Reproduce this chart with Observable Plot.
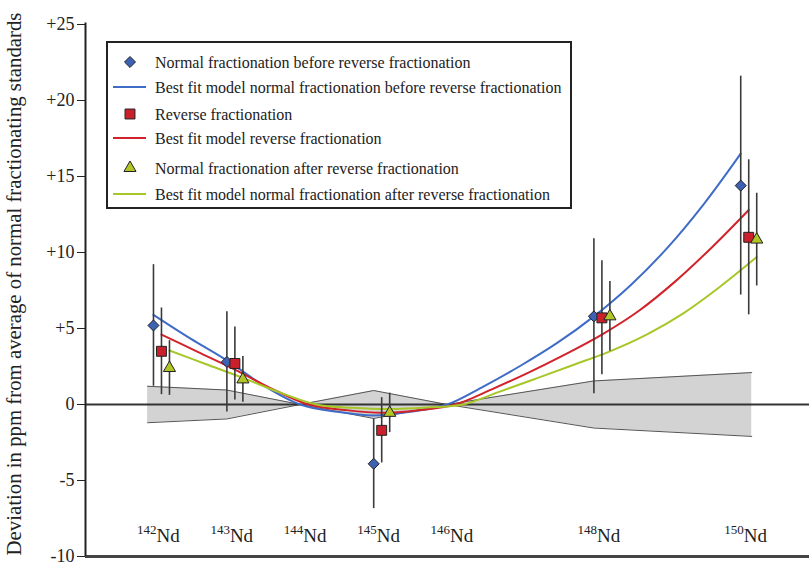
<!DOCTYPE html>
<html><head><meta charset="utf-8">
<script src="https://cdn.jsdelivr.net/npm/d3@7"></script>
<script src="https://cdn.jsdelivr.net/npm/@observablehq/plot@0.6"></script>
<style>
body{margin:0;background:#fff;}
#wrap{position:relative;width:809px;height:566px;font-family:"Liberation Serif","Times New Roman",serif;color:#222;}
#ytitle{position:absolute;left:14px;top:284px;transform:translate(-50%,-50%) rotate(-90deg);white-space:nowrap;font-size:20.8px;}
#legend{position:absolute;left:106px;top:41px;}
</style></head><body><div id="wrap"><div id="ytitle">Deviation in ppm from average of normal fractionating standards</div></div>
<script>
// ---- data ----
const isotopeMass = [142, 143, 144, 145, 146, 148, 150];
const isotopeSup = ["142", "143", "144", "145", "146", "148", "150"];
const isotopeElement = "Nd";

const measuredMass = [142, 143, 145, 148, 150];
const beforeValue = [5.2, 2.8, -3.9, 5.8, 14.4];
const beforeError = [4.0, 3.3, 2.95, 5.1, 7.2];
const reverseValue = [3.5, 2.7, -1.7, 5.7, 11.0];
const reverseError = [2.85, 2.4, 2.15, 3.75, 5.1];
const afterValue = [2.4, 1.65, -0.55, 5.8, 10.85];
const afterError = [1.8, 1.5, 1.3, 2.3, 3.05];

const curveMass = [142, 142.5, 143, 143.5, 144, 144.5, 145, 145.5, 146, 146.5, 147, 147.5, 148, 148.5, 149, 149.5, 150];
const beforeFit = [5.9, 4.35, 2.9, 1.25, 0, -0.48, -0.72, -0.48, 0, 1.2, 2.55, 4.05, 5.8, 7.85, 10.3, 13.2, 16.5];
const reverseFit = [4.6, 3.45, 2.3, 1.05, 0, -0.36, -0.55, -0.38, 0, 1.0, 2.1, 3.3, 4.6, 6.15, 8.1, 10.35, 12.8];
const afterFit = [3.55, 2.65, 1.75, 0.8, 0, -0.22, -0.3, -0.2, 0, 0.85, 1.72, 2.6, 3.5, 4.6, 6.0, 7.75, 9.7];

const bandMass = [141.92, 143, 144, 145, 146, 148, 150.15];
const bandHalfWidth = [1.2, 0.95, 0, 0.92, 0, 1.55, 2.1];

const yTicks = [-10, -5, 0, 5, 10, 15, 20, 25];

const legendLabels = [
  "Normal fractionation before reverse fractionation",
  "Best fit model normal fractionation before reverse fractionation",
  "Reverse fractionation",
  "Best fit model reverse fractionation",
  "Normal fractionation after reverse fractionation",
  "Best fit model normal fractionation after reverse fractionation"
];

// ---- symbols & styling ----
const diamondSym = {draw(ctx, size) { const r = Math.sqrt(size / 2); ctx.moveTo(0, -r); ctx.lineTo(r, 0); ctx.lineTo(0, r); ctx.lineTo(-r, 0); ctx.closePath(); }};
const series = [
  {values: beforeValue, errors: beforeError, fit: beforeFit, dx: 0, line: "#3f6cc6", fill: "#3d62b4", symbol: diamondSym, r: 4.4},
  {values: reverseValue, errors: reverseError, fit: reverseFit, dx: 8, line: "#d2232a", fill: "#c9202b", symbol: "square", r: 5.6},
  {values: afterValue, errors: afterError, fit: afterFit, dx: 16, line: "#a7c729", fill: "#b2c526", symbol: "triangle", r: 4.5}
];

const band = bandMass.map((m, i) => ({mass: m, half: bandHalfWidth[i]}));
const labels = isotopeMass.map((m, i) => ({mass: m, sup: isotopeSup[i]}));

const marks = [
  Plot.areaY(band, {x: "mass", y1: d => -d.half, y2: d => d.half, fill: "#d3d3d3"}),
  Plot.line(band, {x: "mass", y: d => d.half, stroke: "#555", strokeWidth: 1}),
  Plot.line(band, {x: "mass", y: d => -d.half, stroke: "#555", strokeWidth: 1}),
  Plot.ruleY([0], {stroke: "#333", strokeWidth: 2.2}),
  Plot.ruleY([-10], {stroke: "#444", strokeWidth: 3}),
];
for (const s of series) {
  const fitData = curveMass.map((m, i) => ({mass: m, v: s.fit[i]}));
  marks.push(Plot.line(fitData, {x: "mass", y: "v", dx: s.dx, stroke: s.line, strokeWidth: 2, curve: "catmull-rom"}));
}
for (const s of series) {
  const pts = measuredMass.map((m, i) => ({mass: m, v: s.values[i], e: s.errors[i]}));
  marks.push(Plot.ruleX(pts, {x: "mass", y1: d => d.v - d.e, y2: d => d.v + d.e, dx: s.dx, stroke: "#3a3a3a", strokeWidth: 1.6}));
}
for (const s of series) {
  const pts = measuredMass.map((m, i) => ({mass: m, v: s.values[i]}));
  marks.push(Plot.dot(pts, {x: "mass", y: "v", dx: s.dx, symbol: s.symbol, r: s.r, fill: s.fill, stroke: "#222", strokeWidth: 1}));
}
marks.push(
  Plot.text(labels, {x: "mass", y: -9.05, text: "sup", textAnchor: "end", lineAnchor: "bottom", dx: 3, dy: -8, fontSize: 13}),
  Plot.text(labels, {x: "mass", y: -9.05, text: () => isotopeElement, textAnchor: "start", lineAnchor: "bottom", dx: 3, fontSize: 19}),
  Plot.ruleX([141.074], {y1: -10, y2: 25.1, stroke: "#222", strokeWidth: 2}),
  Plot.axisY({ticks: yTicks, tickFormat: d => d > 0 ? "+" + d : String(d), tickSize: 8, tickPadding: 3, label: null, fontSize: 18})
);

const chart = Plot.plot({
  width: 809, height: 566,
  marginLeft: 85, marginRight: 0, marginTop: 24, marginBottom: 10,
  x: {domain: [141.074, 150.937], axis: null},
  y: {domain: [-10, 25]},
  style: {fontFamily: "Liberation Serif, Times New Roman, serif", fontSize: "18px", color: "#222", background: "#fff"},
  marks
});
document.getElementById("wrap").prepend(chart);

// ---- legend overlay ----
const lw = 466, lh = 168;
const leg = d3.select("#wrap").append("svg").attr("id", "legend").attr("width", lw).attr("height", lh)
  .style("font-family", "Liberation Serif, Times New Roman, serif");
leg.append("rect").attr("x", 1).attr("y", 1).attr("width", lw - 2).attr("height", lh - 2).attr("fill", "#fff").attr("stroke", "#222").attr("stroke-width", 2);
const rowY = [21, 46, 73, 97, 127, 153];
legendLabels.forEach((t, i) => {
  const s = series[Math.floor(i / 2)];
  if (i % 2 === 0) {
    leg.append("path").attr("transform", `translate(24,${rowY[i]})`)
      .attr("d", d3.symbol(s.symbol === "square" ? d3.symbolSquare : s.symbol === "triangle" ? d3.symbolTriangle : s.symbol, Math.PI * s.r * s.r)())
      .attr("fill", s.fill).attr("stroke", "#222").attr("stroke-width", 1);
  } else {
    leg.append("line").attr("x1", 7).attr("x2", 40).attr("y1", rowY[i]).attr("y2", rowY[i]).attr("stroke", s.line).attr("stroke-width", 2);
  }
  leg.append("text").attr("x", 49).attr("y", rowY[i]).attr("dy", "0.35em").attr("font-size", 16).attr("fill", "#222").text(t);
});
</script></body></html>
